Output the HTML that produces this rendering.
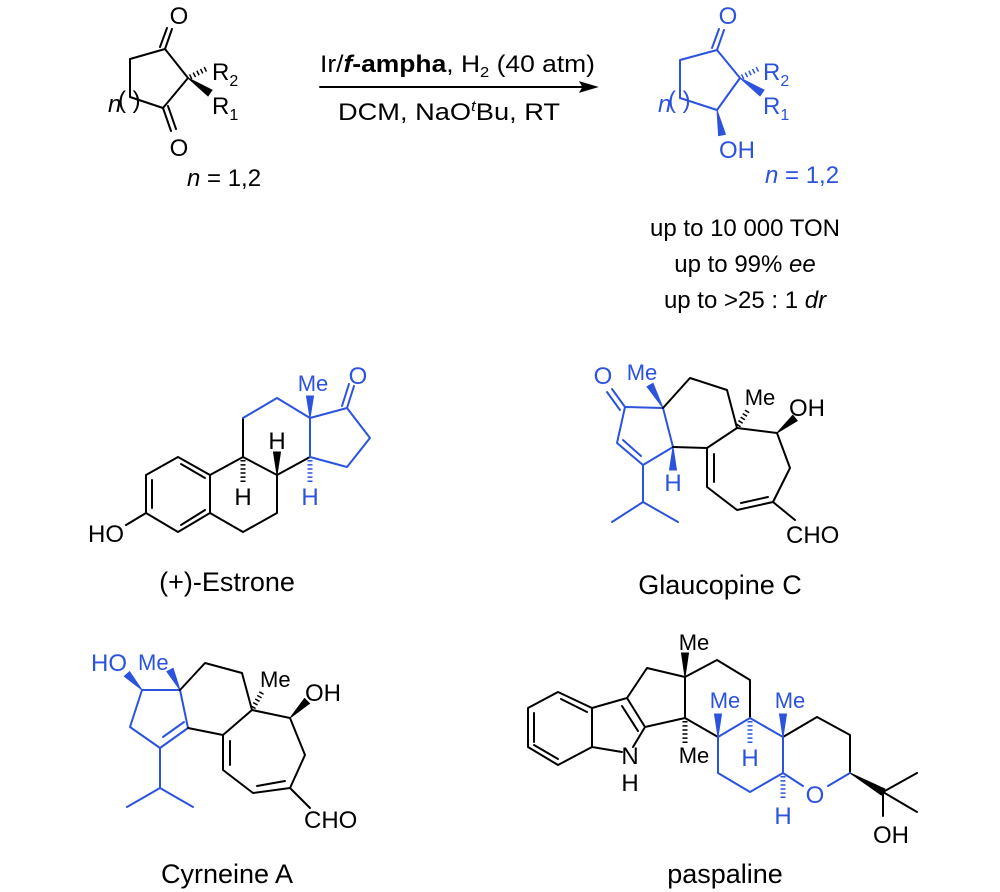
<!DOCTYPE html>
<html><head><meta charset="utf-8"><style>
html,body{margin:0;padding:0;background:#fff;}
svg{display:block;}
text{font-family:"Liberation Sans",Arial,sans-serif;font-size:24px;}
.k line,.k polyline,.k polygon{stroke:#000;}
.b line,.b polyline,.b polygon{stroke:#2b53dc;}
line,polyline{stroke-width:2;fill:none;stroke-linecap:round;stroke-linejoin:round;}
.k polygon{fill:#000;stroke-width:1}
.b polygon{fill:#2b53dc;stroke-width:1}
.k text{fill:#000}
.b text{fill:#2b53dc}
.me{font-size:22px}
.nm{font-size:27px}
.hash{stroke-width:5 !important;stroke-dasharray:1.5,2.6;stroke-linecap:butt !important;}
</style></head><body>
<svg width="1000" height="892" viewBox="0 0 1000 892" xmlns="http://www.w3.org/2000/svg">
<!-- Starting material -->
<g class="k">
<polyline points="165,49 130,59 130,97 163,108 188,78 165,49"/>
<line x1="165" y1="49" x2="172" y2="29"/><line x1="160" y1="47" x2="167" y2="28"/>
<line x1="163" y1="108" x2="171" y2="131"/><line x1="168" y1="106" x2="176" y2="129"/>
<line class="hash" x1="190" y1="77" x2="208" y2="68"/>
<polygon points="188,78 208,95.9 212,90.1"/>
<text x="179" y="24" text-anchor="middle">O</text>
<text x="179" y="156" text-anchor="middle">O</text>
<text x="212" y="80">R<tspan font-size="16" dy="6">2</tspan></text>
<text x="212" y="114">R<tspan font-size="16" dy="6">1</tspan></text>
<text x="108" y="112" font-size="14" font-style="italic">n</text>
<text x="118" y="108" font-size="21">( )</text>
<text x="187" y="186" font-size="27"><tspan font-style="italic">n</tspan> = 1,2</text>
</g>
<!-- Arrow -->
<g class="k">
<text x="320" y="72" font-size="24" textLength="275" lengthAdjust="spacingAndGlyphs">Ir/<tspan font-weight="bold" font-style="italic">f</tspan><tspan font-weight="bold">-ampha</tspan>, H<tspan font-size="15" dy="5">2</tspan><tspan dy="-5"> (40 atm)</tspan></text>
<line x1="320" y1="87" x2="585" y2="87"/>
<polygon points="597,87 580,82 583,87 580,92"/>
<text x="338" y="120" font-size="25" textLength="222" lengthAdjust="spacingAndGlyphs">DCM, NaO<tspan font-size="15" font-style="italic" dy="-9">t</tspan><tspan dy="9">Bu, RT</tspan></text>
</g>
<!-- Product -->
<g class="b">
<polyline points="717,50 680,60 680,98 717,110 740,78 717,50"/>
<line x1="717" y1="50" x2="724" y2="30"/><line x1="712" y1="48" x2="719" y2="29"/>
<line class="hash" x1="742" y1="77" x2="760" y2="68"/>
<polygon points="740,78 760,95.9 764,90.1"/>
<polygon points="717,110 718.6,135.7 725.4,134.3"/>
<text x="728" y="24" text-anchor="middle">O</text>
<text x="763" y="80">R<tspan font-size="16" dy="6">2</tspan></text>
<text x="763" y="114">R<tspan font-size="16" dy="6">1</tspan></text>
<text x="737" y="158" text-anchor="middle">OH</text>
<text x="658" y="112" font-size="14" font-style="italic">n</text>
<text x="668" y="108" font-size="21">( )</text>
<text x="765" y="183" font-size="27"><tspan font-style="italic">n</tspan> = 1,2</text>
</g>
<g class="k">
<text x="745" y="236" text-anchor="middle" font-size="24.5">up to 10 000 TON</text>
<text x="745" y="272" text-anchor="middle" font-size="24.5">up to 99% <tspan font-style="italic">ee</tspan></text>
<text x="745" y="308" text-anchor="middle" font-size="24.5">up to &gt;25 : 1 <tspan font-style="italic">dr</tspan></text>
</g>
<!-- Estrone -->
<g class="k">
<polyline points="178,457 210,475 210,513 178,532 146,513 146,475 178,457"/>
<line x1="152" y1="480" x2="152" y2="508"/>
<line x1="181" y1="464" x2="205" y2="478"/>
<line x1="181" y1="525" x2="205" y2="510"/>
<line x1="146" y1="513" x2="126" y2="525"/>
<polyline points="210,475 243,457 277,475 277,513 243,532 210,513"/>
<line x1="243" y1="457" x2="243" y2="418"/>
<line x1="310" y1="457" x2="277" y2="475"/>
<line class="hash" x1="243" y1="460" x2="243" y2="484"/>
<polygon points="277,475 273.5,452 280.5,452"/>
<text x="124" y="542" text-anchor="end">HO</text>
<text x="243" y="505" text-anchor="middle">H</text>
<text x="277" y="449" text-anchor="middle">H</text>
<text x="227" y="591" text-anchor="middle" class="nm">(+)-Estrone</text>
</g>
<g class="b">
<polyline points="243,418 277,398 310,418 310,457 347,467 370,438 347,408 310,418"/>
<line x1="347" y1="408" x2="354" y2="386"/><line x1="342" y1="406" x2="349" y2="384"/>
<polygon points="310,418 306.5,396 313.5,396"/>
<line class="hash" x1="310" y1="460" x2="310" y2="484"/>
<text x="358" y="384" text-anchor="middle">O</text>
<text x="313" y="391" text-anchor="middle" class="me">Me</text>
<text x="310" y="505" text-anchor="middle">H</text>
</g>
<!-- Glaucopine C -->
<g class="b">
<polyline points="663,408 625,407 617,443 643,465 673,447 663,408"/>
<line x1="623" y1="440" x2="641" y2="456"/>
<line x1="625" y1="407" x2="612" y2="389"/><line x1="620" y1="410" x2="607" y2="392"/>
<polyline points="643,465 643,502 612,522"/><line x1="643" y1="502" x2="678" y2="522"/>
<polygon points="663,408 653,383.3 647,386.7"/>
<polygon points="673,447 669.5,470 676.5,470"/>
<text x="603" y="384" text-anchor="middle">O</text>
<text x="642" y="380" text-anchor="middle" class="me">Me</text>
<text x="673" y="491" text-anchor="middle">H</text>
</g>
<g class="k">
<polyline points="663,408 690,378 727,390 737,428 707,448 673,447"/>
<polyline points="707,448 707,487 737,510 773,502 790,468 777,433 737,428"/>
<line x1="714" y1="454" x2="714" y2="482"/>
<line x1="741" y1="503" x2="768" y2="497"/>
<line x1="773" y1="502" x2="795" y2="520"/>
<line class="hash" x1="738" y1="426" x2="748" y2="410"/>
<polygon points="777,433 797.2,420.7 792.8,415.3"/>
<text x="760" y="405" text-anchor="middle" class="me">Me</text>
<text x="807" y="416" text-anchor="middle">OH</text>
<text x="786" y="543">CHO</text>
<text x="720" y="594" text-anchor="middle" class="nm">Glaucopine C</text>
</g>
<!-- Cyrneine A -->
<g class="b">
<polyline points="142,690 180,690 188,728 160,748 130,727 142,690"/>
<line x1="184" y1="722" x2="163" y2="737"/>
<polyline points="160,748 160,788 127,807"/><line x1="160" y1="788" x2="193" y2="807"/>
<polygon points="142,690 129.6,671.6 124.4,676.4"/>
<polygon points="180,690 173.1,668.4 166.9,671.6"/>
<text x="91" y="671">HO</text>
<text x="138" y="670" class="me">Me</text>
</g>
<g class="k">
<polyline points="180,690 205,663 242,673 252,710 223,735 188,728"/>
<polyline points="223,735 223,770 253,793 290,788 305,755 290,718 252,710"/>
<line x1="230" y1="741" x2="230" y2="765"/>
<line x1="257" y1="786" x2="285" y2="781"/>
<line x1="290" y1="788" x2="310" y2="808"/>
<line class="hash" x1="253" y1="708" x2="262" y2="692"/>
<polygon points="290,718 309.5,703.5 304.5,698.5"/>
<text x="260" y="687" class="me">Me</text>
<text x="305" y="701">OH</text>
<text x="304" y="828">CHO</text>
<text x="227" y="883" text-anchor="middle" class="nm">Cyrneine A</text>
</g>
<!-- Paspaline -->
<g class="k">
<polyline points="528,708 558,692 592,708 592,747 558,765 528,747 528,708"/>
<line x1="534" y1="713" x2="534" y2="742"/>
<line x1="561" y1="699" x2="587" y2="712"/>
<line x1="534" y1="745" x2="558" y2="759"/>
<polyline points="592,708 627,698 645,727 633,747"/><line x1="592" y1="747" x2="622" y2="752"/>
<line x1="622" y1="706" x2="638" y2="731"/>
<polyline points="627,698 647,668 685,677 685,718 645,727"/>
<polyline points="685,677 717,660 750,680 750,718"/>
<line x1="685" y1="718" x2="718" y2="737"/>
<polyline points="783,737 817,717 850,735 850,773"/>
<polygon points="685,677 681.5,653 688.5,653"/>
<line class="hash" x1="685" y1="721" x2="685" y2="744"/>
<polygon points="850,773 881.3,795 884.8,789"/>
<polyline points="883,792 917,773"/><polyline points="883,792 917,812"/><line x1="883" y1="792" x2="883" y2="816"/>
<text x="694" y="650" text-anchor="middle" class="me">Me</text>
<text x="694" y="763" text-anchor="middle" class="me">Me</text>
<text x="630" y="764" text-anchor="middle">N</text>
<text x="630" y="791" text-anchor="middle">H</text>
<text x="891" y="843" text-anchor="middle">OH</text>
<text x="725" y="883" text-anchor="middle" class="nm">paspaline</text>
</g>
<g class="b">
<polyline points="718,737 750,718 783,737 783,773"/>
<polyline points="718,737 718,773 750,792 783,773 803,786"/>
<line x1="828" y1="786" x2="850" y2="773"/>
<polygon points="718,737 714.5,714 721.5,714"/>
<polygon points="783,737 779.5,714 786.5,714"/>
<line class="hash" x1="750" y1="721" x2="750" y2="745"/>
<line class="hash" x1="783" y1="776" x2="783" y2="800"/>
<text x="725" y="708" text-anchor="middle" class="me">Me</text>
<text x="790" y="708" text-anchor="middle" class="me">Me</text>
<text x="750" y="766" text-anchor="middle">H</text>
<text x="815" y="803" text-anchor="middle">O</text>
<text x="783" y="824" text-anchor="middle">H</text>
</g>
</svg>
</body></html>
